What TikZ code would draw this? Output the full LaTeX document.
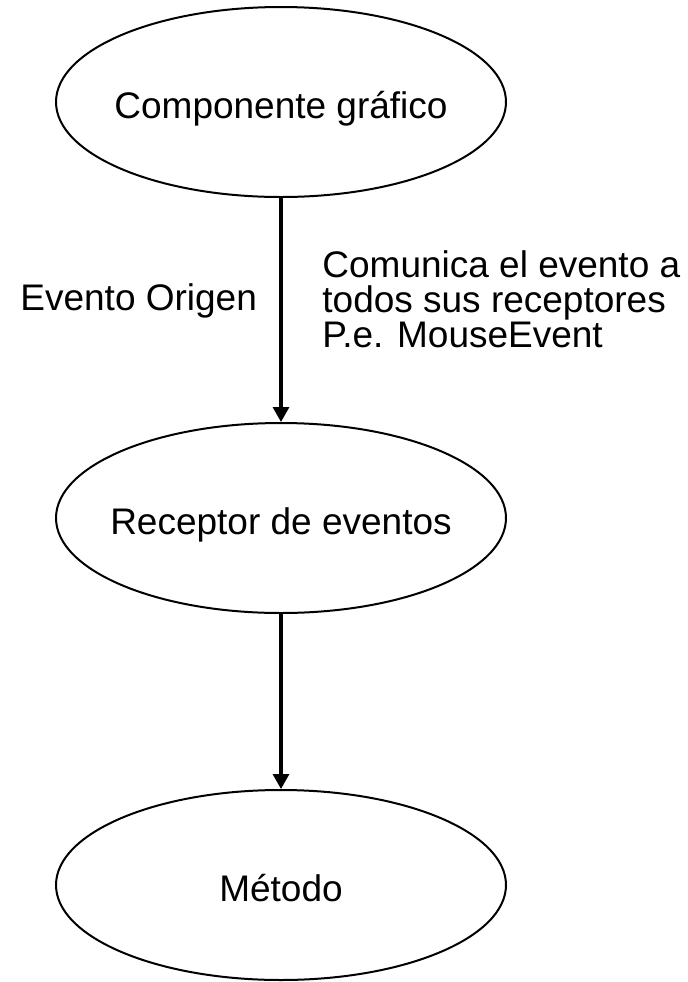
\documentclass[tikz,border=0pt]{standalone}
\usepackage{fontspec}
\setmainfont{Liberation Sans}
\usepackage{tikz}
\usetikzlibrary{shapes.geometric}
\usetikzlibrary{arrows.meta}

\tikzset{
    bloque/.style={draw=black,line width=1pt,ellipse,minimum width=225pt,minimum height=95pt,inner xsep=-8pt,inner ysep=0pt,text height=16pt,text depth=0pt,font=\fontsize{18.5}{21}\selectfont},
    flecha/.style={line width=1.6pt,-{Triangle[length=7.5pt,width=8pt]}},
    rotulo/.style={inner sep=0pt,font=\fontsize{18.5}{17.5}\selectfont}
}

\begin{document}
\begin{tikzpicture}[x=0.5pt,y=-0.5pt]
        \useasboundingbox (0,0) rectangle (688,982);

        %%% NODES %%%
        \node[bloque] (comp) at (281,102) {Componente gráfico};
        \node[bloque] (recep) at (281,518) {Receptor de eventos};
        \node[bloque] (metodo) at (281,885) {Método};

        %%% LABELS %%%
        \node[rotulo,anchor=base west] (origen) at (20,310) {Evento Origen};
        \node[rotulo,anchor=north west,align=left] (comunica) at (322,250) {Comunica el evento a\\todos sus receptores\\P.e. MouseEvent};

        %%% ARROWS %%%
        \draw[flecha] (comp)--(recep);
        \draw[flecha] (recep)--(metodo);
    \end{tikzpicture}
\end{document}
